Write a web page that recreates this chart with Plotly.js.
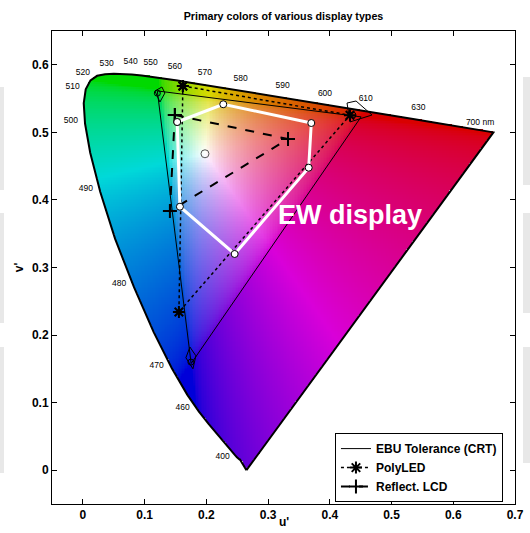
<!DOCTYPE html>
<html><head><meta charset="utf-8">
<script src="https://cdn.plot.ly/plotly-3.0.1.min.js"></script>
<style>html,body{margin:0;padding:0;background:#fff}</style>
</head><body>
<div id="chart" style="width:530px;height:533px"></div>
<script>
// Spectral locus in CIE 1976 u'v', tip -> 400 nm ... -> red corner -> tip
const locusU = [0.265, 0.2557, 0.2552, 0.2545, 0.2537, 0.2522, 0.2496, 0.2461, 0.2411, 0.2347, 0.2266, 0.2161, 0.2033, 0.1877, 0.1690, 0.1441, 0.1147, 0.0828, 0.0521, 0.0282, 0.0119, 0.0035, 0.0014, 0.0046, 0.0123, 0.0231, 0.0360, 0.0501, 0.0643, 0.0792, 0.0953, 0.1127, 0.1319, 0.1531, 0.1766, 0.2026, 0.2312, 0.2623, 0.2960, 0.3315, 0.3681, 0.4035, 0.4379, 0.4692, 0.4968, 0.5203, 0.5399, 0.5565, 0.5830, 0.6005, 0.665, 0.265];
const locusV = [0.0, 0.0159, 0.0159, 0.0159, 0.0159, 0.0169, 0.0191, 0.0226, 0.0279, 0.0350, 0.0437, 0.0549, 0.0688, 0.0871, 0.1119, 0.1510, 0.2044, 0.2708, 0.3427, 0.4117, 0.4698, 0.5131, 0.5432, 0.5638, 0.5770, 0.5837, 0.5861, 0.5868, 0.5865, 0.5856, 0.5841, 0.5821, 0.5796, 0.5766, 0.5732, 0.5694, 0.5651, 0.5604, 0.5554, 0.5501, 0.5446, 0.5393, 0.5342, 0.5296, 0.5254, 0.5219, 0.5190, 0.5165, 0.5125, 0.5099, 0.500, 0.0];

// wavelength labels
const wlText = ['510','520','530','540','550','560','570','580','590','600','610','630','700 nm','500','490','480','470','460','400'];
const wlU = [-0.0167, 0.0, 0.0384, 0.0773, 0.1097, 0.1491, 0.1977, 0.2556, 0.3237, 0.3922, 0.4582, 0.5434, 0.6434, -0.0194, 0.0049, 0.0588, 0.1194, 0.1616, 0.2264];
const wlV = [0.5676, 0.5883, 0.6011, 0.6041, 0.6022, 0.5963, 0.5883, 0.5785, 0.5686, 0.5572, 0.5489, 0.5356, 0.5143, 0.5172, 0.4157, 0.2751, 0.1547, 0.0916, 0.020];

// EBU Tolerance (CRT)
const ebuU = [0.1206, 0.4507, 0.1754, 0.1206];
const ebuV = [0.5613, 0.5229, 0.1579, 0.5613];
const tolGreenU = [0.1167, 0.128, 0.1329, 0.1248, 0.1167];
const tolGreenV = [0.5612, 0.5671, 0.5582, 0.5449, 0.5612];
const tolRedU = [0.4279, 0.4425, 0.4684, 0.4327, 0.4279];
const tolRedV = [0.5434, 0.5464, 0.5257, 0.5154, 0.5434];
const tolBlueU = [0.1734, 0.1831, 0.1783, 0.1669, 0.1734];
const tolBlueV = [0.1823, 0.1693, 0.1501, 0.1664, 0.1823];
const ebuPtU = [0.1206, 0.4376, 0.1750];
const ebuPtV = [0.5580, 0.5255, 0.1600];

// PolyLED
const polyU = [0.162, 0.4327, 0.1556, 0.162];
const polyV = [0.5686, 0.5254, 0.2342, 0.5686];

// Reflect. LCD
const lcdU = [0.149, 0.3323, 0.141, 0.149];
const lcdV = [0.5257, 0.4901, 0.3836, 0.5257];

// EW display
const ewU = [0.1528, 0.2274, 0.370, 0.3658, 0.2459, 0.1572, 0.1528];
const ewV = [0.5153, 0.5416, 0.5138, 0.4477, 0.320, 0.390, 0.5153];

// white point
const wpU = [0.1978];
const wpV = [0.4683];

// ---- chromaticity background raster ----
function inside(px, py) {
  let c = false;
  for (let i = 0, j = locusU.length - 1; i < locusU.length; j = i++) {
    const xi = locusU[i], yi = locusV[i], xj = locusU[j], yj = locusV[j];
    if (((yi > py) !== (yj > py)) && (px < (xj - xi) * (py - yi) / (yj - yi) + xi)) c = !c;
  }
  return c;
}
function gam(c) { return c <= 0.0031308 ? 12.92 * c : 1.055 * Math.pow(c, 1 / 2.4) - 0.055; }
function uvRGB(u, v) {
  v = Math.max(v, 0.0005);
  const d = 6 * u - 16 * v + 12;
  const x = 9 * u / d, y = 4 * v / d;
  const X = x / y, Y = 1, Z = (1 - x - y) / y;
  let r = 3.2406 * X - 1.5372 * Y - 0.4986 * Z;
  let g = -0.9689 * X + 1.8758 * Y + 0.0415 * Z;
  let b = 0.0557 * X - 0.2040 * Y + 1.0570 * Z;
  r = Math.max(r, 0); g = Math.max(g, 0); b = Math.max(b, 0);
  const m = Math.max(r, g, b) || 1;
  r = gam(r / m); g = gam(g / m); b = gam(b / m);
  const sat = 1 - Math.min(r, g, b);
  const k = 255 * (1 - 0.15 * sat);
  return [r * k, g * k, b * k];
}
const step = 0.0025, u0 = -0.005, v0 = -0.005, nU = 273, nV = 241;
const z = [];
for (let j = 0; j < nV; j++) {
  const row = [];
  const v = v0 + j * step;
  for (let i = 0; i < nU; i++) {
    const u = u0 + i * step;
    if (inside(u, v)) { const c = uvRGB(u, v); row.push([c[0], c[1], c[2], 1]); }
    else row.push([255, 255, 255, 0]);
  }
  z.push(row);
}

const FONT = 'Liberation Sans, Arial, Helvetica, sans-serif';
const traces = [
  {type: 'image', z: z, colormodel: 'rgba', x0: u0, dx: step, y0: v0, dy: step, hoverinfo: 'skip'},
  {type: 'scatter', mode: 'lines', x: locusU, y: locusV, line: {color: 'black', width: 2}, showlegend: false, hoverinfo: 'skip'},
  {type: 'scatter', mode: 'lines', x: ebuU, y: ebuV, line: {color: 'black', width: 1}, name: 'EBU Tolerance (CRT)'},
  {type: 'scatter', mode: 'lines', x: tolGreenU, y: tolGreenV, line: {color: 'black', width: 1}, showlegend: false},
  {type: 'scatter', mode: 'lines', x: tolRedU, y: tolRedV, line: {color: 'black', width: 1}, showlegend: false},
  {type: 'scatter', mode: 'lines', x: tolBlueU, y: tolBlueV, line: {color: 'black', width: 1}, showlegend: false},
  {type: 'scatter', mode: 'markers', x: ebuPtU, y: ebuPtV, marker: {symbol: 'circle-open', size: 6, color: 'black', line: {width: 1}}, showlegend: false},
  {type: 'scatter', mode: 'lines+markers', x: polyU, y: polyV, line: {color: 'black', width: 1.5, dash: 'dot'},
   marker: {symbol: 'asterisk-open', size: 10, color: 'black', line: {color: 'black', width: 2}}, name: 'PolyLED'},
  {type: 'scatter', mode: 'lines+markers', x: lcdU, y: lcdV, line: {color: 'black', width: 2, dash: 'dash'},
   marker: {symbol: 'cross-thin-open', size: 10, color: 'black', line: {color: 'black', width: 2}}, name: 'Reflect. LCD'},
  {type: 'scatter', mode: 'lines+markers', x: ewU, y: ewV, line: {color: 'white', width: 3},
   marker: {symbol: 'circle', size: 7, color: 'white', line: {color: 'black', width: 1}}, showlegend: false},
  {type: 'scatter', mode: 'markers', x: wpU, y: wpV, marker: {symbol: 'circle-open', size: 8, color: '#555', line: {width: 1}}, showlegend: false},
  {type: 'scatter', mode: 'text', x: wlU, y: wlV, text: wlText, textfont: {family: FONT, size: 8.5, color: 'black'}, showlegend: false, hoverinfo: 'skip'}
];

const stripe = (x0, x1, y0, y1) => ({type: 'rect', xref: 'paper', yref: 'paper', x0: (x0 - 52) / 463, x1: (x1 - 52) / 463,
  y0: (504 - y1) / 473, y1: (504 - y0) / 473, fillcolor: '#e8e8e8', line: {width: 0}, layer: 'below'});

const axisCommon = {showline: true, linecolor: 'black', linewidth: 1, mirror: 'ticks', ticks: 'inside', ticklen: 5,
  tickcolor: 'black', showgrid: false, zeroline: false, tickfont: {family: FONT, size: 12, color: 'black', weight: 'bold'}};

const layout = {
  width: 530, height: 533,
  margin: {l: 52, r: 15, t: 31, b: 29},
  paper_bgcolor: 'white', plot_bgcolor: 'white',
  title: {text: 'Primary colors of various display types', font: {family: FONT, size: 10.7, color: 'black', weight: 'bold'},
    x: 0.5, xref: 'paper', y: 1, yref: 'container', yanchor: 'top', pad: {t: 13}},
  xaxis: Object.assign({}, axisCommon, {range: [-0.05, 0.7], tickvals: [0, 0.1, 0.2, 0.3, 0.4, 0.5, 0.6, 0.7],
    ticktext: ['0', '0.1', '0.2', '0.3', '0.4', '0.5', '0.6', '0.7']}),
  yaxis: Object.assign({}, axisCommon, {range: [-0.05, 0.65], scaleanchor: false, tickvals: [0, 0.1, 0.2, 0.3, 0.4, 0.5, 0.6],
    ticktext: ['0', '0.1', '0.2', '0.3', '0.4', '0.5', '0.6'],
    title: {text: "v'", font: {family: FONT, size: 12, color: 'black', weight: 'bold'}, standoff: 5}}),
  legend: {x: 0.974, y: 0.004, xanchor: 'right', yanchor: 'bottom', bgcolor: 'white', bordercolor: 'black', borderwidth: 1,
    font: {family: FONT, size: 12, color: 'black', weight: 'bold'}, itemwidth: 30, tracegroupgap: 0},
  annotations: [
    {x: 0.5, y: (504 - 514) / 473, xref: 'paper', yref: 'paper', yanchor: 'top', text: "u'", showarrow: false, borderpad: 0,
     font: {family: FONT, size: 12, color: 'black', weight: 'bold'}},
    {x: 0.433, y: 0.378, xref: 'x', yref: 'y', text: 'EW display', showarrow: false,
     font: {family: FONT, size: 27, color: 'white', weight: 'bold'}}
  ],
  shapes: [stripe(0, 4, 87, 190), stripe(0, 4, 213, 323), stripe(0, 4, 347, 473),
           stripe(523, 530, 77, 185), stripe(523, 530, 213, 313), stripe(523, 530, 347, 463)],
  showlegend: true
};
Plotly.newPlot('chart', traces, layout, {displayModeBar: false, staticPlot: true});
</script>
</body></html>
